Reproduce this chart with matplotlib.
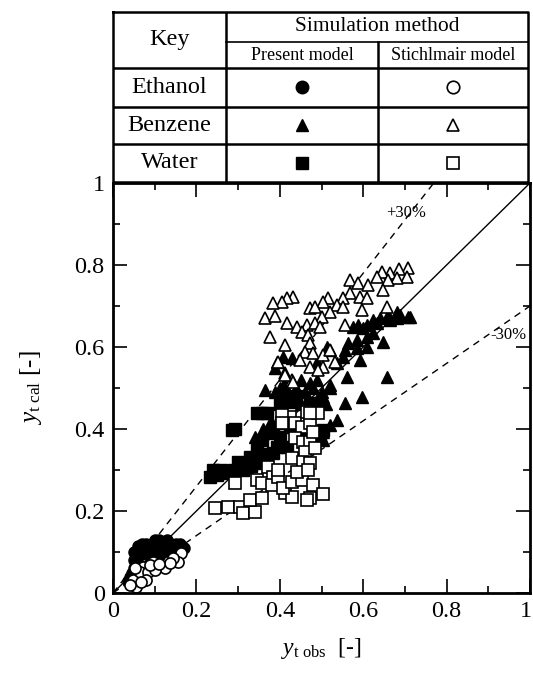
import matplotlib
matplotlib.use("Agg")
import matplotlib.pyplot as plt
import matplotlib.transforms as mtransforms

plt.rcParams['font.family'] = ['Liberation Serif', 'DejaVu Serif']
plt.rcParams['mathtext.fontset'] = 'custom'
plt.rcParams['mathtext.rm'] = 'Liberation Serif'
plt.rcParams['mathtext.it'] = 'Liberation Serif:italic'

# ethanol, present model (filled circles)
eth_pm_x = [0.04, 0.05, 0.05, 0.06, 0.06, 0.07, 0.07, 0.08, 0.09, 0.10, 0.11, 0.12, 0.13, 0.14,
            0.15, 0.16, 0.17, 0.08, 0.10, 0.12, 0.14, 0.06, 0.09, 0.11, 0.13, 0.07, 0.045, 0.10,
            0.13, 0.06, 0.035, 0.05, 0.16]
eth_pm_y = [0.04, 0.06, 0.08, 0.09, 0.10, 0.11, 0.12, 0.12, 0.12, 0.13, 0.13, 0.12, 0.13, 0.12,
            0.12, 0.11, 0.11, 0.10, 0.10, 0.10, 0.10, 0.07, 0.08, 0.09, 0.11, 0.095, 0.05, 0.115,
            0.125, 0.115, 0.03, 0.10, 0.12]
# ethanol, Stichlmair model (open circles)
eth_st_x = [0.164, 0.156, 0.144, 0.125, 0.096, 0.072, 0.060, 0.077, 0.055, 0.048, 0.065, 0.084,
            0.100, 0.137, 0.079, 0.067, 0.053, 0.089, 0.110, 0.040]
eth_st_y = [0.097, 0.076, 0.085, 0.061, 0.076, 0.064, 0.044, 0.039, 0.015, 0.032, 0.051, 0.051,
            0.056, 0.073, 0.032, 0.027, 0.061, 0.068, 0.070, 0.020]

# benzene, present model (filled triangles)
ben_pm_x = [0.707, 0.688, 0.681, 0.660, 0.664, 0.640, 0.624, 0.633, 0.609, 0.588, 0.576, 0.600,
            0.624, 0.609, 0.585, 0.647, 0.564, 0.609, 0.585, 0.556, 0.592, 0.513, 0.520, 0.552,
            0.537, 0.408, 0.429, 0.393, 0.388, 0.489, 0.561, 0.657, 0.556, 0.597, 0.712, 0.681,
            0.364, 0.388, 0.537, 0.520, 0.504, 0.504, 0.520, 0.504, 0.472,
            0.40, 0.42, 0.44, 0.46, 0.48, 0.50, 0.52, 0.43, 0.45, 0.47, 0.49, 0.51, 0.41, 0.45,
            0.49, 0.38, 0.36, 0.34]
ben_pm_y = [0.673, 0.678, 0.671, 0.678, 0.666, 0.671, 0.666, 0.659, 0.654, 0.654, 0.649, 0.646,
            0.634, 0.624, 0.617, 0.612, 0.610, 0.600, 0.598, 0.593, 0.568, 0.600, 0.593, 0.576,
            0.561, 0.576, 0.573, 0.563, 0.549, 0.563, 0.527, 0.527, 0.463, 0.478, 0.673, 0.685,
            0.495, 0.490, 0.422, 0.410, 0.393, 0.373, 0.507, 0.478, 0.512,
            0.50, 0.49, 0.50, 0.49, 0.50, 0.49, 0.50, 0.47, 0.46, 0.47, 0.47, 0.46, 0.51, 0.52,
            0.52, 0.42, 0.40, 0.38]
# benzene, Stichlmair model (open triangles)
ben_st_x = [0.707, 0.686, 0.664, 0.645, 0.705, 0.681, 0.660, 0.633, 0.568, 0.588, 0.612, 0.647,
            0.568, 0.592, 0.609, 0.552, 0.432, 0.417, 0.405, 0.384, 0.516, 0.504, 0.537, 0.472,
            0.484, 0.552, 0.597, 0.657, 0.520, 0.501, 0.364, 0.388, 0.417, 0.441, 0.465, 0.484,
            0.496, 0.556, 0.453, 0.468, 0.377, 0.472, 0.412, 0.460, 0.480, 0.504, 0.520, 0.448,
            0.396, 0.532, 0.472, 0.504, 0.412, 0.429, 0.412, 0.432, 0.492]
ben_st_y = [0.793, 0.790, 0.780, 0.783, 0.771, 0.768, 0.763, 0.771, 0.763, 0.756, 0.751, 0.739,
            0.732, 0.722, 0.720, 0.720, 0.722, 0.720, 0.710, 0.707, 0.720, 0.710, 0.702, 0.695,
            0.698, 0.698, 0.690, 0.698, 0.685, 0.673, 0.671, 0.676, 0.659, 0.649, 0.654, 0.659,
            0.649, 0.654, 0.637, 0.629, 0.624, 0.610, 0.605, 0.588, 0.585, 0.580, 0.593, 0.568,
            0.563, 0.563, 0.551, 0.551, 0.537, 0.520, 0.532, 0.515, 0.544]

# water, present model (filled squares)
wat_pm_x = [0.293, 0.345, 0.369, 0.249, 0.273, 0.300, 0.312, 0.329, 0.345, 0.357, 0.369, 0.384,
            0.400, 0.393, 0.369, 0.345, 0.408, 0.432, 0.472, 0.496, 0.424, 0.408, 0.456, 0.496,
            0.504, 0.384, 0.417, 0.240, 0.233, 0.321, 0.285, 0.357, 0.40, 0.44, 0.48, 0.26,
            0.29, 0.33, 0.36]
wat_pm_y = [0.400, 0.439, 0.439, 0.288, 0.293, 0.320, 0.300, 0.332, 0.349, 0.373, 0.390, 0.398,
            0.380, 0.356, 0.332, 0.317, 0.471, 0.466, 0.463, 0.463, 0.405, 0.415, 0.380, 0.380,
            0.398, 0.341, 0.356, 0.300, 0.283, 0.307, 0.398, 0.439, 0.46, 0.48, 0.46, 0.30,
            0.30, 0.31, 0.34]
# water, Stichlmair model (open squares)
wat_st_x = [0.245, 0.276, 0.305, 0.312, 0.341, 0.329, 0.357, 0.345, 0.357, 0.372, 0.384, 0.381,
            0.293, 0.396, 0.412, 0.429, 0.408, 0.429, 0.453, 0.472, 0.465, 0.480, 0.504, 0.424,
            0.436, 0.453, 0.472, 0.492, 0.465, 0.436, 0.456, 0.472, 0.460, 0.484, 0.429, 0.456,
            0.472, 0.396, 0.441, 0.468, 0.480, 0.405, 0.472, 0.405]
wat_st_y = [0.207, 0.210, 0.210, 0.195, 0.198, 0.227, 0.232, 0.276, 0.268, 0.307, 0.283, 0.263,
            0.268, 0.283, 0.244, 0.234, 0.256, 0.271, 0.276, 0.232, 0.227, 0.263, 0.241, 0.429,
            0.415, 0.405, 0.415, 0.439, 0.441, 0.378, 0.368, 0.368, 0.344, 0.354, 0.329, 0.320,
            0.317, 0.300, 0.295, 0.300, 0.393, 0.434, 0.439, 0.415]

ticks = [0, 0.2, 0.4, 0.6, 0.8, 1]
tick_labels = ['0', '0.2', '0.4', '0.6', '0.8', '1']
species = ['Ethanol', 'Benzene', 'Water']

W, H = 533, 676
fig = plt.figure(figsize=(W / 100, H / 100), dpi=100)

# main plot
ax = fig.add_axes([113 / W, 1 - 593 / H, 417 / W, 410 / H])
ax.plot([0, 1], [0, 1], color='k', lw=1.0)
ax.plot([0, 1 / 1.3], [0, 1], color='k', lw=1.0, ls=(0, (5, 4)))
ax.plot([0, 1], [0, 0.7], color='k', lw=1.0, ls=(0, (5, 4)))

ms = 8
ax.plot(eth_pm_x, eth_pm_y, 'o', ms=ms, mfc='k', mec='k', mew=1.0)
ax.plot(ben_pm_x, ben_pm_y, '^', ms=ms + 1, mfc='k', mec='k', mew=1.0)
ax.plot(wat_pm_x, wat_pm_y, 's', ms=ms, mfc='k', mec='k', mew=1.0)
ax.plot(ben_st_x, ben_st_y, '^', ms=ms + 1, mfc='w', mec='k', mew=1.2)
ax.plot(wat_st_x, wat_st_y, 's', ms=ms, mfc='w', mec='k', mew=1.2)
ax.plot(eth_st_x, eth_st_y, 'o', ms=ms, mfc='w', mec='k', mew=1.2)

ax.text(0.655, 0.927, '+30%', fontsize=12, ha='left', va='center')
ax.text(0.905, 0.63, '-30%', fontsize=12, ha='left', va='center')

ax.set_xlim(0, 1)
ax.set_ylim(0, 1)
ax.set_xticks(ticks)
ax.set_yticks(ticks)
ax.set_xticklabels(tick_labels)
ax.set_yticklabels(tick_labels)
ax.set_xticks([0.1, 0.3, 0.5, 0.7, 0.9], minor=True)
ax.set_yticks([0.1, 0.3, 0.5, 0.7, 0.9], minor=True)
ax.tick_params(which='both', direction='in', top=True, right=True, labelsize=17.5, width=1.2)
ax.tick_params(which='major', length=10, pad=6)
ax.tick_params(which='minor', length=5)
for s in ax.spines.values():
    s.set_linewidth(2)
# last x tick label sits right on the figure edge; nudge it in a little
last = ax.get_xticklabels()[-1]
last.set_transform(last.get_transform() + mtransforms.ScaledTranslation(-4 / 100, 0, fig.dpi_scale_trans))
ax.set_xlabel(r'$y_{\mathrm{t\ obs}}$  [-]', fontsize=17, labelpad=10)
ax.set_ylabel(r'$y_{\mathrm{t\ cal}}$ [-]', fontsize=18, labelpad=22)

# key table
tab = fig.add_axes([113 / W, 1 - 182 / H, 415 / W, 170 / H])
tab.set_xlim(113, 528)
tab.set_ylim(182, 12)
tab.axis('off')
lw = 1.8
col1, col2 = 226, 378
rows = [12, 42, 68, 107, 144, 182]
tab.plot([113, 528, 528, 113, 113], [12, 12, 182, 182, 12], color='k', lw=lw, clip_on=False)
tab.plot([col1, col1], [12, 182], color='k', lw=lw)
tab.plot([col2, col2], [42, 182], color='k', lw=lw)
tab.plot([col1, 528], [42, 42], color='k', lw=1.2)
for r in rows[2:5]:
    tab.plot([113, 528], [r, r], color='k', lw=lw)

tab.text((113 + col1) / 2, 40, 'Key', fontsize=17.5, ha='center', va='center')
tab.text((col1 + 528) / 2, 27, 'Simulation method', fontsize=15.5, ha='center', va='center')
tab.text((col1 + col2) / 2, 56, 'Present model', fontsize=13, ha='center', va='center')
tab.text((col2 + 528) / 2, 56, 'Stichlmair model', fontsize=13, ha='center', va='center')

marks = ['o', '^', 's']
for i, (name, m) in enumerate(zip(species, marks)):
    yc = (rows[i + 2] + rows[i + 3]) / 2
    tab.text((113 + col1) / 2, yc, name, fontsize=17.5, ha='center', va='center')
    tab.plot([(col1 + col2) / 2], [yc], m, ms=9, mfc='k', mec='k')
    tab.plot([(col2 + 528) / 2], [yc], m, ms=9, mfc='w', mec='k', mew=1.2)

fig.savefig('out.png', dpi=100)
